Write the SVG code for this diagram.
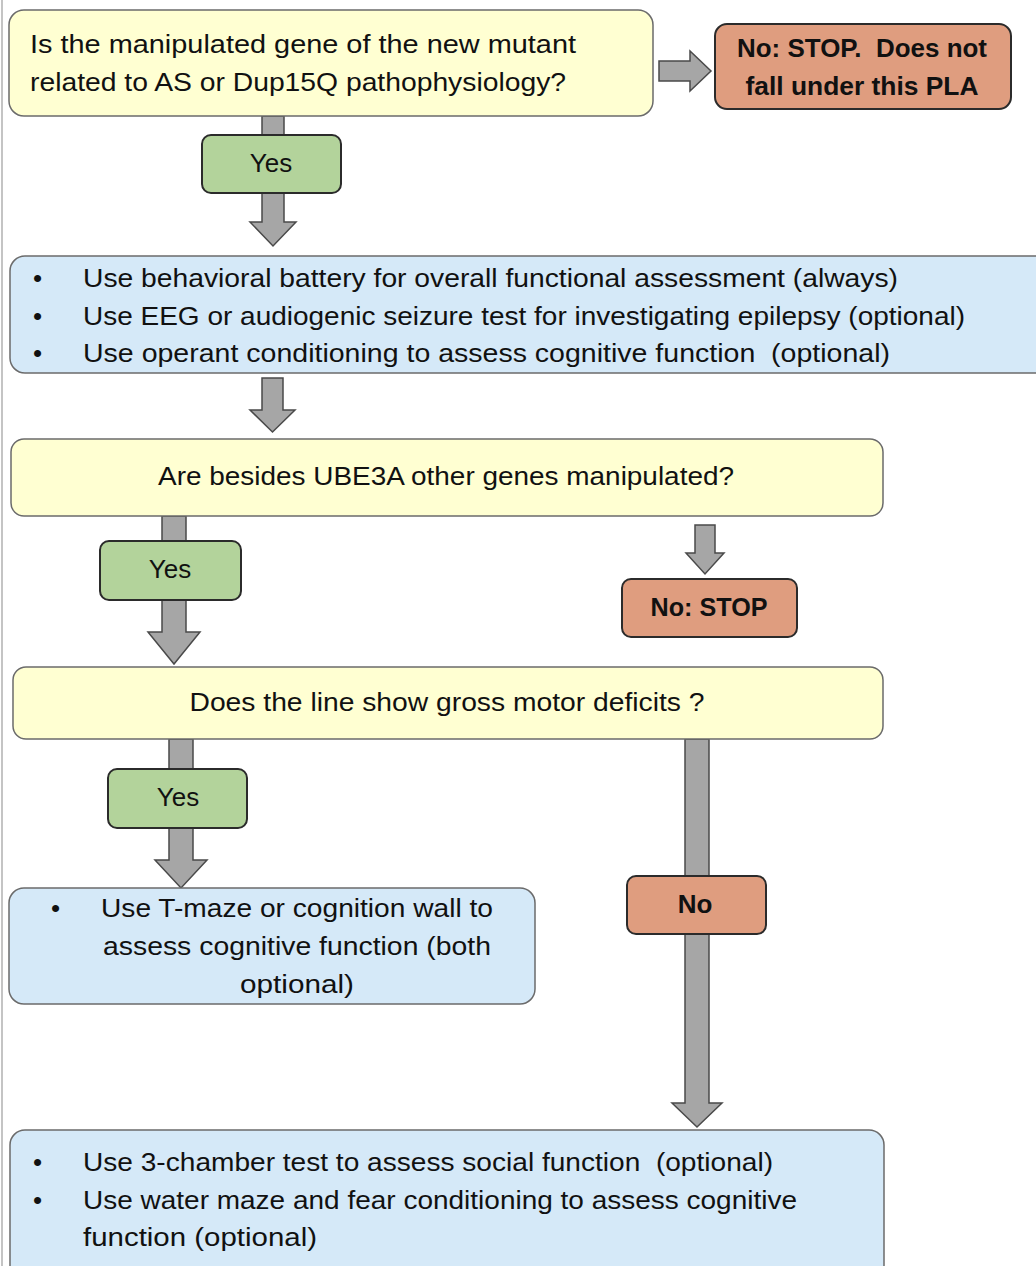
<svg xmlns="http://www.w3.org/2000/svg" width="1036" height="1266" viewBox="0 0 1036 1266">
<style>
text{font-family:"Liberation Sans",Arial,sans-serif;font-size:26px;fill:#111;white-space:pre}
.b{font-weight:bold}
.c{text-anchor:middle}
.q{fill:#FFFFD2;stroke:#6b6b6b;stroke-width:1.5}
.a{fill:#D5E9F8;stroke:#6b6b6b;stroke-width:1.5}
.y{fill:#B3D39B;stroke:#2b2b2b;stroke-width:2}
.n{fill:#DF9D7F;stroke:#2b2b2b;stroke-width:2}
.ar{fill:#A6A6A6;stroke:#4a4a4a;stroke-width:1.5;stroke-linejoin:miter}
</style>
<rect x="0" y="0" width="1036" height="1266" fill="#fff"/>
<line x1="2" y1="0" x2="2" y2="1266" stroke="#c4c4c4" stroke-width="2"/>
<g id="connectors">
<polygon class="ar" points="659,61 690,61 690,51 711,71 690,91 690,81 659,81"/>
<polygon class="ar" points="262,116 284,116 284,222 296,222 273,246 250,222 262,222"/>
<polygon class="ar" points="262,378 283,378 283,410 295,410 272.5,432 250,410 262,410"/>
<polygon class="ar" points="162,516 186,516 186,632 200,632 174,664 148,632 162,632"/>
<polygon class="ar" points="695,525 715,525 715,553 724,553 705,574 686,553 695,553"/>
<polygon class="ar" points="169,739 193,739 193,860 207,860 181,888 155,860 169,860"/>
<polygon class="ar" points="685,739 709,739 709,1103 722,1103 697,1127 672,1103 685,1103"/>
</g>
<g id="q1">
<rect class="q" x="9" y="10" width="644" height="106" rx="15"/>
<text x="30" y="53" textLength="546" lengthAdjust="spacingAndGlyphs">Is the manipulated gene of the new mutant</text>
<text x="30" y="91" textLength="536" lengthAdjust="spacingAndGlyphs">related to AS or Dup15Q pathophysiology?</text>
</g>
<g id="stop1">
<rect class="n" x="715" y="24" width="296" height="85" rx="12"/>
<text class="b c" x="862" y="57" textLength="250" lengthAdjust="spacingAndGlyphs">No: STOP.  Does not</text>
<text class="b c" x="862" y="95" textLength="233" lengthAdjust="spacingAndGlyphs">fall under this PLA</text>
</g>
<g id="yes1">
<rect class="y" x="202" y="135" width="139" height="58" rx="9"/>
<text class="c" x="271" y="172">Yes</text>
</g>
<g id="a1">
<rect class="a" x="10" y="256" width="1050" height="117" rx="15"/>
<text x="33" y="287">•</text>
<text x="83" y="287" textLength="815" lengthAdjust="spacingAndGlyphs">Use behavioral battery for overall functional assessment (always)</text>
<text x="33" y="325">•</text>
<text x="83" y="325" textLength="882" lengthAdjust="spacingAndGlyphs">Use EEG or audiogenic seizure test for investigating epilepsy (optional)</text>
<text x="33" y="362">•</text>
<text x="83" y="362" textLength="807" lengthAdjust="spacingAndGlyphs">Use operant conditioning to assess cognitive function  (optional)</text>
</g>
<g id="q2">
<rect class="q" x="11" y="439" width="872" height="77" rx="13"/>
<text class="c" x="446" y="485" textLength="576" lengthAdjust="spacingAndGlyphs">Are besides UBE3A other genes manipulated?</text>
</g>
<g id="yes2">
<rect class="y" x="100" y="541" width="141" height="59" rx="9"/>
<text class="c" x="170" y="578">Yes</text>
</g>
<g id="stop2">
<rect class="n" x="622" y="579" width="175" height="58" rx="9"/>
<text class="b c" x="709" y="616" textLength="117" lengthAdjust="spacingAndGlyphs">No: STOP</text>
</g>
<g id="q3">
<rect class="q" x="13" y="667" width="870" height="72" rx="13"/>
<text class="c" x="447" y="711" textLength="515" lengthAdjust="spacingAndGlyphs">Does the line show gross motor deficits ?</text>
</g>
<g id="yes3">
<rect class="y" x="108" y="769" width="139" height="59" rx="9"/>
<text class="c" x="178" y="806">Yes</text>
</g>
<g id="a2">
<rect class="a" x="9" y="888" width="526" height="116" rx="15"/>
<text x="51" y="917">•</text>
<text x="101" y="917" textLength="392" lengthAdjust="spacingAndGlyphs">Use T-maze or cognition wall to</text>
<text class="c" x="297" y="955" textLength="388" lengthAdjust="spacingAndGlyphs">assess cognitive function (both</text>
<text class="c" x="297" y="993" textLength="114" lengthAdjust="spacingAndGlyphs">optional)</text>
</g>
<g id="no3">
<rect class="n" x="627" y="876" width="139" height="58" rx="9"/>
<text class="b c" x="695" y="913">No</text>
</g>
<g id="a3">
<rect class="a" x="10" y="1130" width="874" height="150" rx="15"/>
<text x="33" y="1171">•</text>
<text x="83" y="1171" textLength="690" lengthAdjust="spacingAndGlyphs">Use 3-chamber test to assess social function  (optional)</text>
<text x="33" y="1209">•</text>
<text x="83" y="1209" textLength="714" lengthAdjust="spacingAndGlyphs">Use water maze and fear conditioning to assess cognitive</text>
<text x="83" y="1246" textLength="234" lengthAdjust="spacingAndGlyphs">function (optional)</text>
</g>
</svg>
